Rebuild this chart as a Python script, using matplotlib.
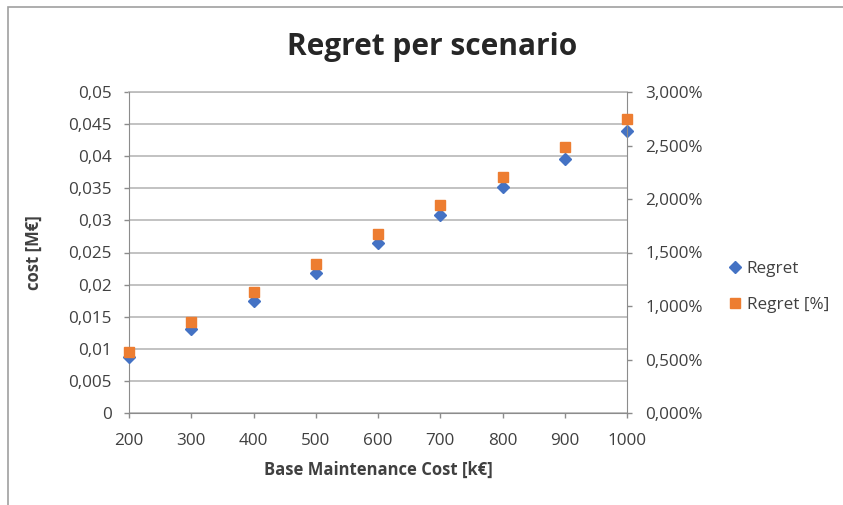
import matplotlib
matplotlib.use("Agg")
import matplotlib.pyplot as plt
from matplotlib.ticker import FuncFormatter, MultipleLocator
from matplotlib.lines import Line2D
from matplotlib.patches import Rectangle

base_cost = [200, 300, 400, 500, 600, 700, 800, 900, 1000]
regret = [0.0088, 0.0131, 0.0175, 0.0218, 0.0265, 0.0309, 0.0352, 0.0396, 0.0440]
regret_pct = [0.573, 0.854, 1.129, 1.391, 1.672, 1.946, 2.208, 2.485, 2.747]

title = "Regret per scenario"
xlabel = "Base Maintenance Cost [k\u20ac]"
ylabel = "cost [M\u20ac]"
legend_labels = ["Regret", "Regret [%]"]

plt.rcParams['font.family'] = ['Open Sans', 'DejaVu Sans']
grid_col = '#bdbdbd'
spine_col = '#8c8c8c'
text_col = '#404040'
blue = '#4472C4'
orange = '#ED7D31'
tick_fs = 12.3

fig = plt.figure(figsize=(8.43, 5.05), dpi=100)
ax = fig.add_axes([129/843, 1-413/505, (627-129)/843, (413-92)/505])
ax2 = ax.twinx()

ax.plot(base_cost, regret, linestyle='none', marker='D', ms=6.5, color=blue, zorder=3, clip_on=False)
ax2.plot(base_cost, regret_pct, linestyle='none', marker='s', ms=7, color=orange, zorder=3, clip_on=False)

ax.set_xlim(200, 1000)
ax.set_ylim(0, 0.05)
ax2.set_ylim(0, 3.0)
ax.xaxis.set_major_locator(MultipleLocator(100))
ax.yaxis.set_major_locator(MultipleLocator(0.005))
ax2.yaxis.set_major_locator(MultipleLocator(0.5))

def lfmt(v, p):
    s = ('%.3f' % v).rstrip('0').rstrip('.')
    return s.replace('.', ',')
ax.yaxis.set_major_formatter(FuncFormatter(lfmt))
ax2.yaxis.set_major_formatter(FuncFormatter(lambda v, p: ('%.3f%%' % v).replace('.', ',')))

ax.grid(axis='y', color=grid_col, lw=1.3)
ax.axhline(0.05, color=grid_col, lw=1.3, clip_on=False, zorder=1)
ax.set_axisbelow(True)
for a in (ax, ax2):
    for s in a.spines.values():
        s.set_visible(False)
ax.spines['left'].set_visible(True)
ax.spines['left'].set_color(spine_col)
ax.spines['bottom'].set_visible(True)
ax.spines['bottom'].set_color(spine_col)
ax2.spines['right'].set_visible(True)
ax2.spines['right'].set_color(spine_col)

ax.tick_params(axis='y', colors=spine_col, labelcolor=text_col, labelsize=tick_fs, length=3.6, width=1, pad=9)
ax.tick_params(axis='x', colors=spine_col, labelcolor=text_col, labelsize=tick_fs, length=3.6, width=1, pad=10.5)
ax2.tick_params(axis='y', colors=spine_col, labelcolor=text_col, labelsize=tick_fs, length=3.6, width=1, pad=9.5)

ax.set_xlabel(xlabel, fontsize=12, fontweight='bold', color=text_col, labelpad=9)
ax.set_ylabel(ylabel, fontsize=12, fontweight='bold', color=text_col, labelpad=18)

fig.text(432/843, 1-47/505, title, ha='center', va='center', fontsize=21.5, fontweight='bold', color='#262626')

handles = [Line2D([], [], linestyle='none', marker='D', ms=6, color=blue),
           Line2D([], [], linestyle='none', marker='s', ms=7, color=orange)]
fig.legend(handles, legend_labels, loc='center left', bbox_to_anchor=(716/843, 1-287/505),
           frameon=False, fontsize=tick_fs, labelcolor=text_col, handletextpad=0.1,
           labelspacing=1.2, handlelength=1.2, borderpad=0)

fig.patches.append(Rectangle((8/843, -0.05), 1.1, 1-7/505+0.05, transform=fig.transFigure,
                             fill=False, edgecolor='#a0a0a0', lw=1.2))

fig.savefig('out.png', dpi=100)
